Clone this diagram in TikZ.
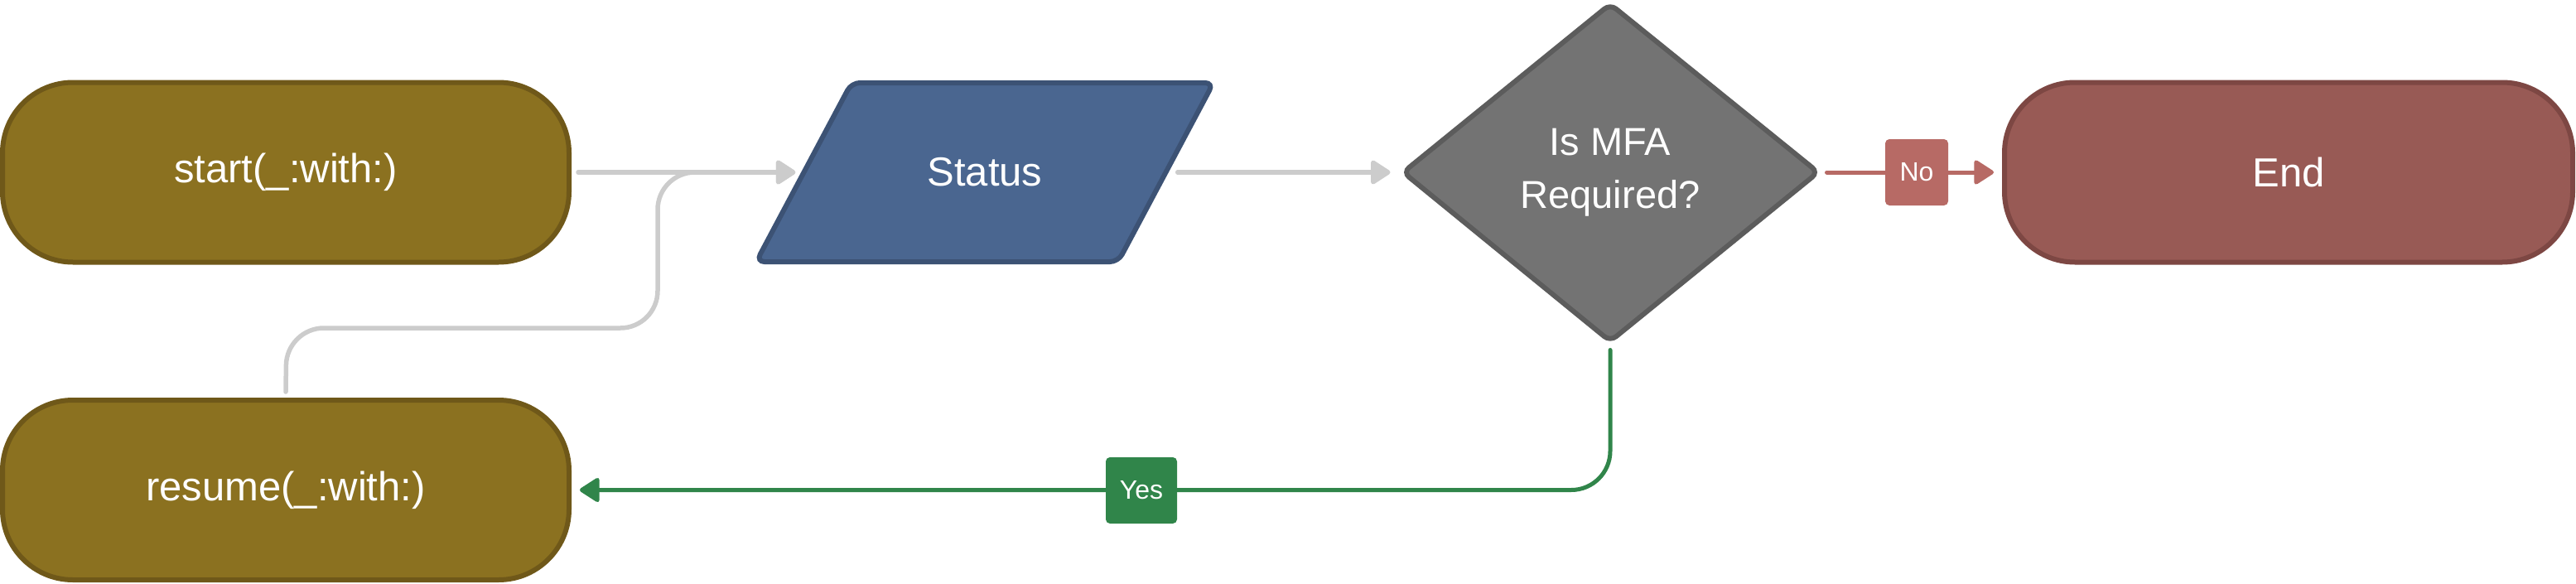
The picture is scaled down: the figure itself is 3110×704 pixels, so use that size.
\documentclass[tikz,border=0pt]{standalone}
\usepackage{fontspec}
\setmainfont{Liberation Sans}
\usetikzlibrary{shapes.geometric,arrows.meta}
\definecolor{olivefill}{HTML}{8B7120}
\definecolor{olivedraw}{HTML}{6F5819}
\definecolor{bluefill}{HTML}{4A6690}
\definecolor{bluedraw}{HTML}{3C5274}
\definecolor{grayfill}{HTML}{737373}
\definecolor{graydraw}{HTML}{5C5C5C}
\definecolor{redfill}{HTML}{985A55}
\definecolor{reddraw}{HTML}{7D4743}
\definecolor{nored}{HTML}{B76A65}
\definecolor{yesgreen}{HTML}{30854A}
\definecolor{connGray}{HTML}{CCCCCC}
\tikzset{
  terminal/.style={rectangle, rounded corners=85pt, minimum width=684pt, minimum height=217pt,
    line width=6pt, text=white, inner sep=0pt, font=\fontsize{49}{58}\selectfont},
  conn/.style={line width=5.5pt, line cap=round, -{Triangle[length=26pt,width=32pt,round]}},
  lbl/.style={rectangle, rounded corners=5pt, minimum height=80pt, inner sep=0pt,
    text=white, font=\fontsize{32}{38}\selectfont}
}
\begin{document}
\begin{tikzpicture}[x=1pt,y=-1pt]
\useasboundingbox (0,0) rectangle (3110,704);
% parallelogram outline for Status
\draw[line width=6pt, rounded corners=10pt, fill=bluefill, draw=bluedraw]
  (1028,100) -- (1465,100) -- (1350,316) -- (913,316) -- cycle;
% diamond outline for the decision
\draw[line width=6pt, rounded corners=9pt, fill=grayfill, draw=graydraw]
  (1944,5) -- (2195,208) -- (1944,412) -- (1694,208) -- cycle;
% nodes
\node[terminal, fill=olivefill, draw=olivedraw] (start) at (345,208) {start(\_:with:)};
\node[terminal, fill=olivefill, draw=olivedraw] (resume) at (345,591.5) {resume(\_:with:)};
\node[terminal, fill=redfill, draw=reddraw, minimum width=686pt] (end) at (2763,208) {End};
\node[rectangle, minimum width=437pt, minimum height=216pt, inner sep=0pt,
  text=white, font=\fontsize{49}{58}\selectfont] (status) at (1189,208) {Status};
\node[rectangle, minimum width=501pt, minimum height=407pt, inner sep=0pt, outer sep=3pt,
  text=white, align=center, font=\fontsize{47}{64}\selectfont] (mfa) at (1944,208) {Is MFA\\Required?};
% helper coordinates
\coordinate (lp1) at (346,396);
\coordinate (lp2) at (794,396);
\coordinate (lp3) at (794,208);
% connectors
\draw[conn, draw=connGray, shorten <=8pt, shorten >=10pt] (start.east) -- (status.west);
\draw[conn, draw=connGray, rounded corners=45pt, shorten >=10pt]
  ([yshift=7pt]resume.north) -- (lp1) -- (lp2) -- (lp3) -- (status.west);
\draw[conn, draw=connGray, shorten <=14pt, shorten >=12pt] (status.east) -- (mfa.west);
\draw[conn, line width=5pt, draw=nored, shorten <=8pt, shorten >=10pt] (mfa.east) -- (end.west);
\draw[conn, line width=5pt, draw=yesgreen, rounded corners=47pt, shorten <=8pt, shorten >=10pt]
  (mfa.south) |- (resume.east);
% edge labels
\node[lbl, fill=nored, minimum width=76pt] (nolbl) at (2314,208) {No};
\node[lbl, fill=yesgreen, minimum width=86pt] (yeslbl) at (1378,592) {Yes};
\end{tikzpicture}
\end{document}
